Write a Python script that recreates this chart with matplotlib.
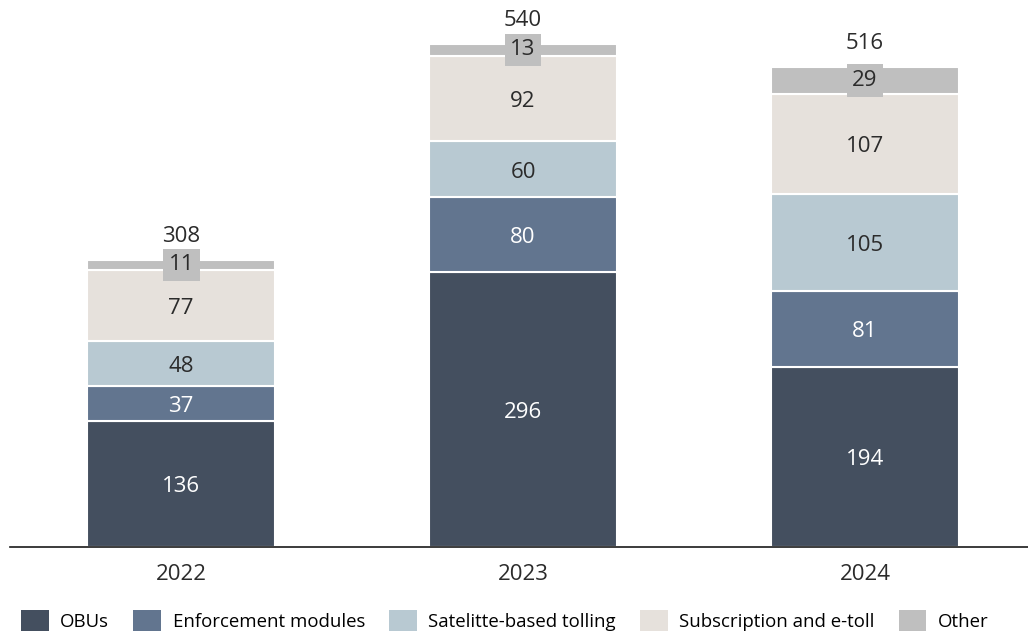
import numpy as np
import matplotlib.pyplot as plt
from matplotlib.patches import Patch

plt.rcParams['font.family'] = ['Open Sans', 'DejaVu Sans']

years = ['2022', '2023', '2024']
series = ['OBUs', 'Enforcement modules', 'Satelitte-based tolling',
          'Subscription and e-toll', 'Other']
obus = [136, 296, 194]
enforcement = [37, 80, 81]
satellite = [48, 60, 105]
subscription = [77, 92, 107]
other = [11, 13, 29]
totals = [308, 540, 516]

colors = ['#444f5f', '#62758f', '#b8c9d2', '#e6e1dc', '#bfbfbf']
text_colors = ['white', 'white', '#2b2b2b', '#2b2b2b', '#2b2b2b']

fig = plt.figure(figsize=(10.28, 6.31), dpi=100)
ax = fig.add_axes([0.01, 0.133, 0.99, 0.867])

x = np.arange(len(years))
bottom = np.zeros(len(years))
data = [obus, enforcement, satellite, subscription, other]
for i, vals in enumerate(data):
    vals = np.array(vals)
    ax.bar(x, vals, 0.55, bottom=bottom, color=colors[i],
           edgecolor='white', linewidth=1.5)
    for j, v in enumerate(vals):
        yc = bottom[j] + v / 2 - 3
        if i == 4:
            ax.text(x[j], yc + 3, str(v), ha='center', va='center', fontsize=16,
                    color=text_colors[i],
                    bbox=dict(boxstyle='square,pad=0.25', fc=colors[i], ec='none'))
        else:
            ax.text(x[j], yc, str(v), ha='center', va='center', fontsize=16,
                    color=text_colors[i])
    bottom += vals

for j, t in enumerate(totals):
    ax.text(x[j], bottom[j] + 14, str(t), ha='center', va='bottom',
            fontsize=16, color='#2b2b2b')

ax.set_xlim(-0.5, 2.477)
ax.set_ylim(0, 588)
ax.set_yticks([])
ax.set_xticks(x)
ax.set_xticklabels(years, fontsize=16, color='#2b2b2b')
ax.tick_params(axis='x', length=0, pad=12)
for s in ['top', 'right', 'left']:
    ax.spines[s].set_visible(False)
ax.spines['bottom'].set_color('#1a1a1a')
ax.spines['bottom'].set_linewidth(1.2)

handles = [Patch(facecolor=c, edgecolor='none') for c in colors]
fig.legend(handles, series, loc='lower center', ncol=5, frameon=False,
           fontsize=13.4, bbox_to_anchor=(0.491, -0.027), handlelength=1.5,
           handleheight=1.4, columnspacing=1.3, handletextpad=0.6)

fig.savefig('out.png', dpi=100)
